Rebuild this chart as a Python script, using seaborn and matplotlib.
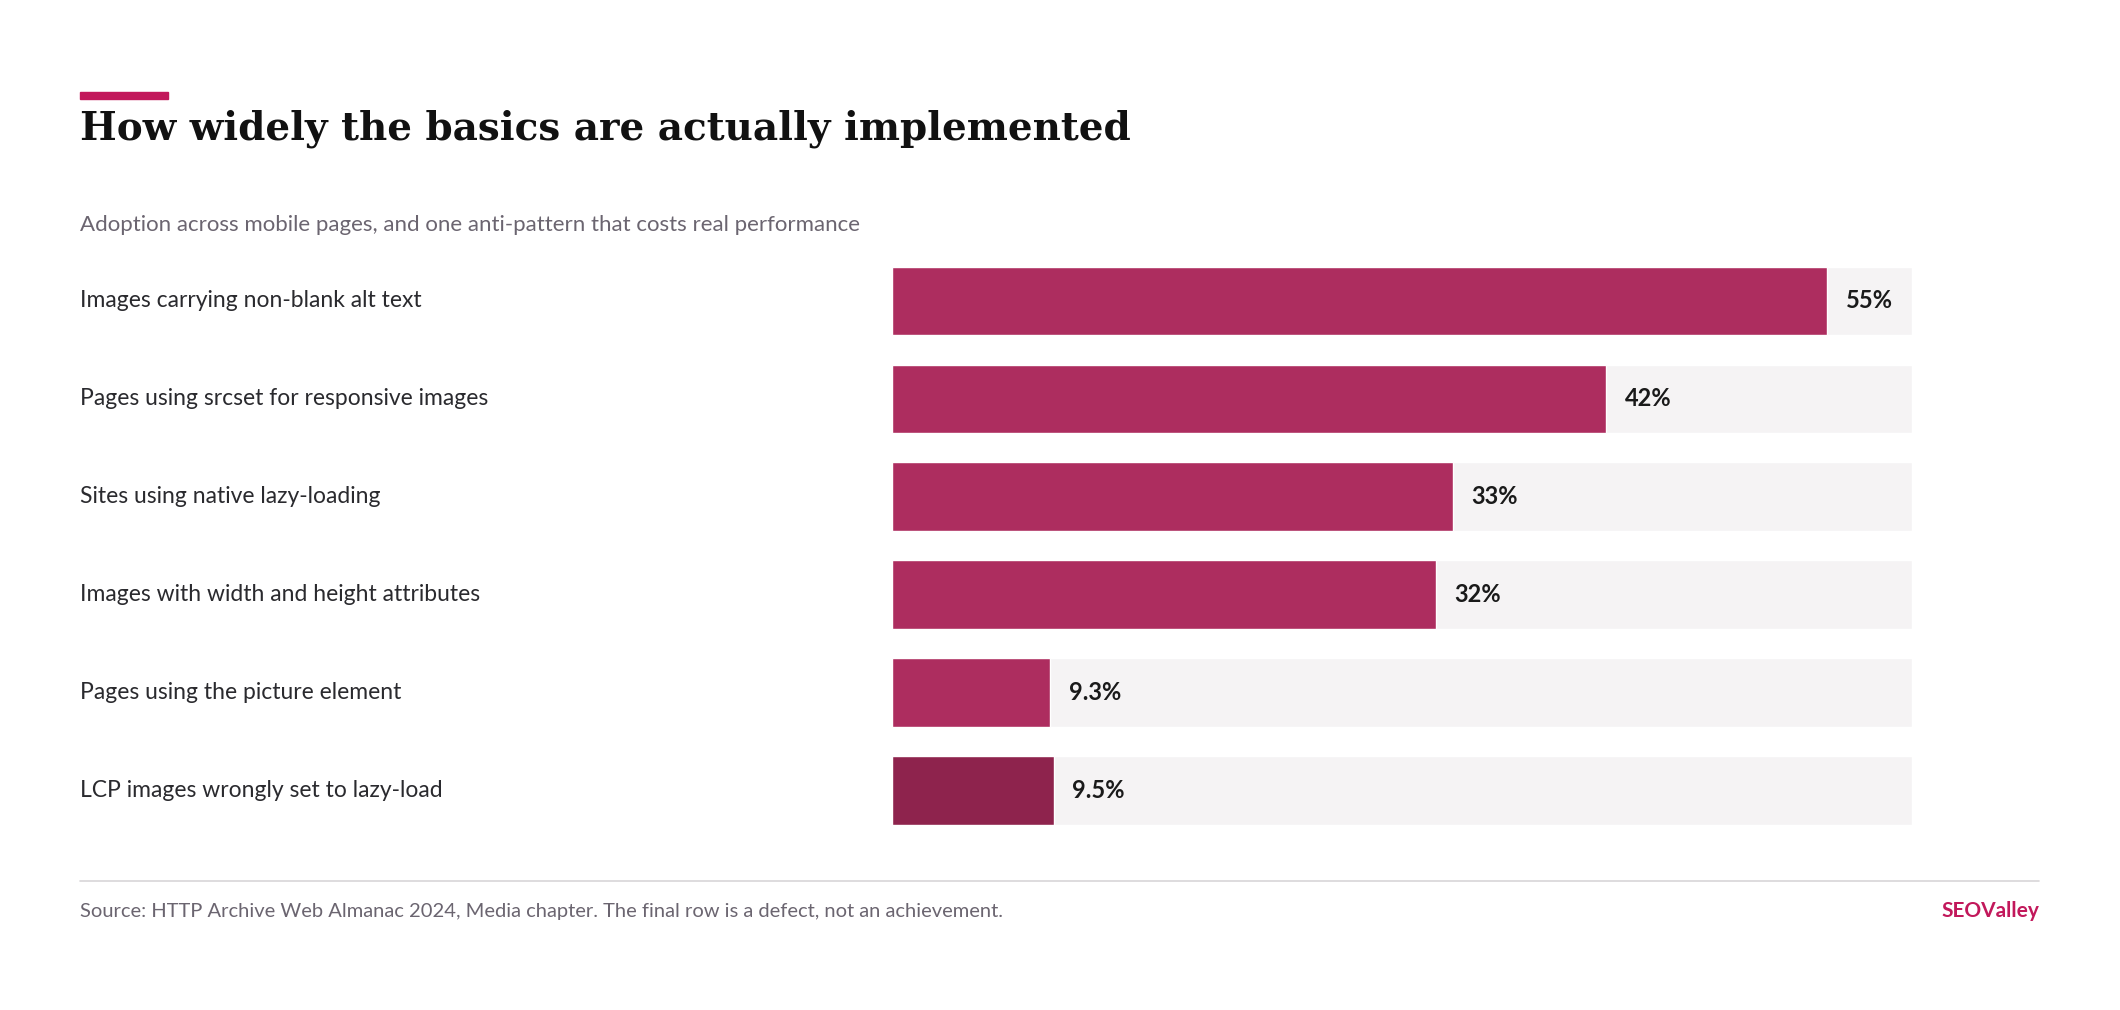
import matplotlib
matplotlib.use("Agg")
import matplotlib.pyplot as plt
import matplotlib.transforms as mtransforms
import seaborn as sns
import pandas as pd

categories = ["Images carrying non-blank alt text", "Pages using srcset for responsive images",
              "Sites using native lazy-loading", "Images with width and height attributes",
              "Pages using the picture element", "LCP images wrongly set to lazy-load"]
values = [55, 42, 33, 32, 9.3, 9.5]
value_labels = ["55%", "42%", "33%", "32%", "9.3%", "9.5%"]
track_max = 60
colors = ["#C2185B"] * 5 + ["#A01149"]

sns.set_theme(style="white")
plt.rcParams['font.family'] = ['Lato', 'DejaVu Sans']

W, H = 1568, 746
fig = plt.figure(figsize=(21.2, 10.1), dpi=100)
ax = fig.add_axes([660/W, 1-609/H, (1414-660)/W, (609-197)/H])

df = pd.DataFrame({"cat": categories, "val": values, "track": [track_max]*len(values)})
sns.barplot(data=df, y="cat", x="track", color="#F5F3F4", width=0.7, ax=ax, orient="h")
sns.barplot(data=df, y="cat", x="val", hue="cat", palette=colors, width=0.7, ax=ax,
            orient="h", legend=False)
ax.set_xlim(0, track_max)
ax.set_ylim(5.35, -0.35)
ax.axis("off")

tr = mtransforms.blended_transform_factory(fig.transFigure, ax.transData)
for i, (c, v, lab) in enumerate(zip(categories, values, value_labels)):
    ax.text(59/W, i, c, transform=tr, va="center", ha="left", fontsize=16.5, color="#2a2a2e")
    ax.text(v + 1.1, i, lab, va="center", ha="left", fontsize=17, fontweight="bold", color="#1a1a1a")

fig.patches.append(plt.Rectangle((59/W, 1-73/H), 65/W, 5/H, transform=fig.transFigure,
                                 color="#C2185B", figure=fig))
fig.text(59/W, 1-95/H, "How widely the basics are actually implemented", family="DejaVu Serif",
         fontsize=28, fontweight="bold", color="#111111", va="center")
fig.text(59/W, 1-166/H, "Adoption across mobile pages, and one anti-pattern that costs real performance",
         fontsize=16, color="#6b6570", va="center")
fig.add_artist(plt.Line2D([59/W, 1508/W], [1-651/H]*2, color="#d8d6d8", lw=1.2,
                          transform=fig.transFigure))
fig.text(59/W, 1-673/H, "Source: HTTP Archive Web Almanac 2024, Media chapter. The final row is a defect, not an achievement.",
         fontsize=14.5, color="#6b6570", va="center")
fig.text(1508/W, 1-673/H, "SEOValley", fontsize=15, fontweight="bold", color="#C2185B",
         va="center", ha="right")

fig.savefig("out.png", dpi=100, facecolor="white")
